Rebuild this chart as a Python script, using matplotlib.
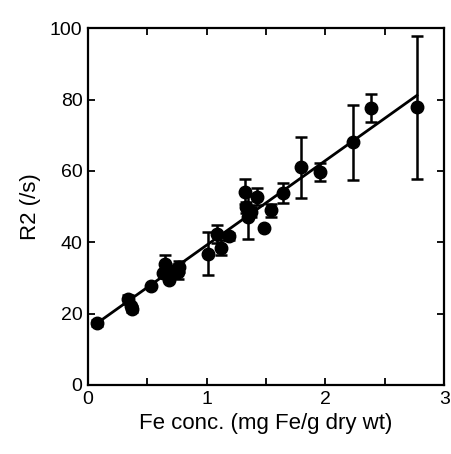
import matplotlib.pyplot as plt
import numpy as np
from matplotlib.ticker import MultipleLocator

plt.rcParams['font.family'] = ['Liberation Sans', 'DejaVu Sans']

# Fe concentration (mg Fe/g dry wt) vs R2 (/s)
fe_conc = [0.08, 0.34, 0.36, 0.37, 0.53, 0.63, 0.65, 0.68, 0.70, 0.76, 0.77,
           1.01, 1.09, 1.12, 1.19, 1.32, 1.33, 1.35, 1.37, 1.42, 1.48, 1.54,
           1.64, 1.79, 1.95, 2.23, 2.38, 2.77]
r2 = [17.4, 24.0, 22.0, 21.2, 27.8, 31.5, 33.8, 29.5, 32.0, 31.8, 33.2,
      36.8, 42.3, 38.5, 41.7, 54.2, 49.8, 47.0, 48.5, 52.8, 44.0, 49.0,
      53.8, 61.0, 59.8, 68.0, 77.6, 77.8]
r2_err = [0.8, 1.2, 0.0, 0.8, 0.0, 0.0, 2.5, 0.0, 0.0, 2.0, 1.5,
          6.0, 2.5, 2.0, 1.0, 3.5, 1.5, 6.0, 1.5, 2.5, 0.0, 1.8,
          2.8, 8.5, 2.5, 10.5, 4.0, 20.0]

# linear fit drawn in the figure
fit_x = [0.08, 2.77]
fit_slope = 23.7
fit_intercept = 15.5

fig = plt.figure(figsize=(4.51, 4.54), dpi=100)
ax = fig.add_axes([0.195, 0.152, 0.79, 0.786])

fx = np.array(fit_x)
ax.plot(fx, fit_intercept + fit_slope * fx, color='black', linewidth=2, zorder=2)
ax.errorbar(fe_conc, r2, yerr=r2_err, fmt='o', color='black', markersize=9,
            elinewidth=1.8, capsize=4, capthick=1.8, zorder=3)

ax.set_xlim(0, 3)
ax.set_ylim(0, 100)
ax.xaxis.set_major_locator(MultipleLocator(1))
ax.xaxis.set_minor_locator(MultipleLocator(0.5))
ax.yaxis.set_major_locator(MultipleLocator(20))

for s in ax.spines.values():
    s.set_linewidth(1.6)
ax.tick_params(which='both', direction='in', top=True, right=True,
               length=5, width=1.3, labelsize=14, pad=4)

ax.set_xlabel('Fe conc. (mg Fe/g dry wt)', fontsize=16, labelpad=4)
ax.set_ylabel('R2 (/s)', fontsize=16, labelpad=6)

fig.savefig('out.png', dpi=100)
